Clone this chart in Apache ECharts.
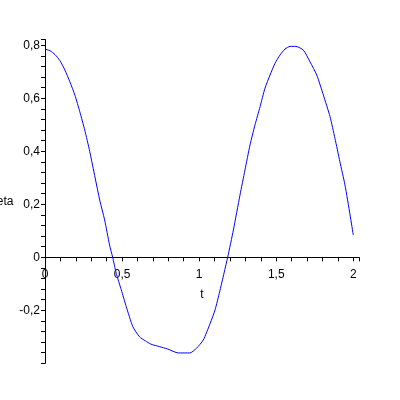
<!DOCTYPE html>
<html>
<head>
<meta charset="utf-8">
<script src="https://cdn.jsdelivr.net/npm/echarts@6/dist/echarts.min.js"></script>
<style>
  html, body { margin: 0; padding: 0; background: #fff; }
  #plot { width: 400px; height: 400px; }
</style>
</head>
<body>
<div id="plot"></div>
<script>
// t values and theta values
var tValues = [0, 0.032, 0.065, 0.097, 0.129, 0.161, 0.194, 0.226, 0.258, 0.29,
  0.355, 0.387, 0.419, 0.439, 0.462, 0.495, 0.527, 0.57, 0.613, 0.65,
  0.688, 0.742, 0.795, 0.865, 0.94, 0.983, 1.027, 1.071, 1.103, 1.133,
  1.185, 1.222, 1.265, 1.297, 1.33, 1.362, 1.395, 1.427, 1.46, 1.492,
  1.524, 1.557, 1.59, 1.628, 1.676, 1.719, 1.763, 1.806, 1.849, 1.881,
  1.913, 1.946, 1.979, 2.0];
var thetaValues = [0.785, 0.78, 0.765, 0.742, 0.707, 0.663, 0.612, 0.549, 0.48, 0.40,
  0.216, 0.141, 0.046, 0, -0.06, -0.123, -0.186, -0.262, -0.3, -0.315,
  -0.328, -0.337, -0.346, -0.361, -0.361, -0.343, -0.312, -0.25, -0.199, -0.13,
  0, 0.103, 0.235, 0.329, 0.424, 0.499, 0.568, 0.638, 0.688, 0.732,
  0.763, 0.786, 0.796, 0.796, 0.782, 0.738, 0.688, 0.612, 0.531, 0.449,
  0.361, 0.273, 0.16, 0.084];
var xLabelStep = 0.5;
var yLabelStep = 0.2;

var points = tValues.map(function (t, i) { return [t, thetaValues[i]]; });

function commaLabel(step) {
    return function (v) {
        var k = v / step;
        if (Math.abs(k - Math.round(k)) > 1e-6) return '';
        return String(+v.toFixed(2)).replace('.', ',');
    };
}

var yMin = -0.4, yMax = 0.822;
var gridTop = 39.5, gridBottom = 36.7;
var plotH = 400 - gridTop - gridBottom;
// move the t axis up to theta = 0 (labels go with it)
var zeroOffset = -plotH * (0 - yMin) / (yMax - yMin);

var myChart = echarts.init(document.getElementById('plot'));
myChart.setOption({
    animation: false,
    textStyle: { fontFamily: 'Liberation Sans' },
    grid: { left: 45, right: 41, top: gridTop, bottom: gridBottom, containLabel: false, outerBoundsMode: 'none' },
    xAxis: {
        type: 'value',
        min: 0,
        max: 2.037,
        interval: 0.1,
        offset: zeroOffset,
        name: 't',
        nameLocation: 'middle',
        nameGap: 31,
        nameTextStyle: { color: '#000', fontSize: 12 },
        axisLine: { onZero: false, lineStyle: { color: '#000', width: 1 } },
        axisTick: { show: true, length: 4, lineStyle: { color: '#000' } },
        axisLabel: {
            color: '#000', fontSize: 12, margin: 11,
            showMinLabel: true, showMaxLabel: true,
            formatter: commaLabel(xLabelStep)
        },
        splitLine: { show: false }
    },
    yAxis: {
        type: 'value',
        min: yMin,
        max: yMax,
        interval: 0.04,
        name: 'theta',
        nameLocation: 'middle',
        nameRotate: 0,
        nameGap: 31,
        nameTextStyle: { color: '#000', fontSize: 12 },
        axisLine: { show: true, lineStyle: { color: '#000', width: 1 } },
        axisTick: { show: true, length: 4, lineStyle: { color: '#000' } },
        axisLabel: {
            color: '#000', fontSize: 12, margin: 5,
            formatter: function (v) {
                if (v < -0.3) return '';
                return commaLabel(yLabelStep)(v);
            }
        },
        splitLine: { show: false }
    },
    series: [{
        type: 'line',
        data: points,
        showSymbol: false,
        smooth: 0.2,
        lineStyle: { color: '#0000ff', width: 1 }
    }]
});
</script>
</body>
</html>
